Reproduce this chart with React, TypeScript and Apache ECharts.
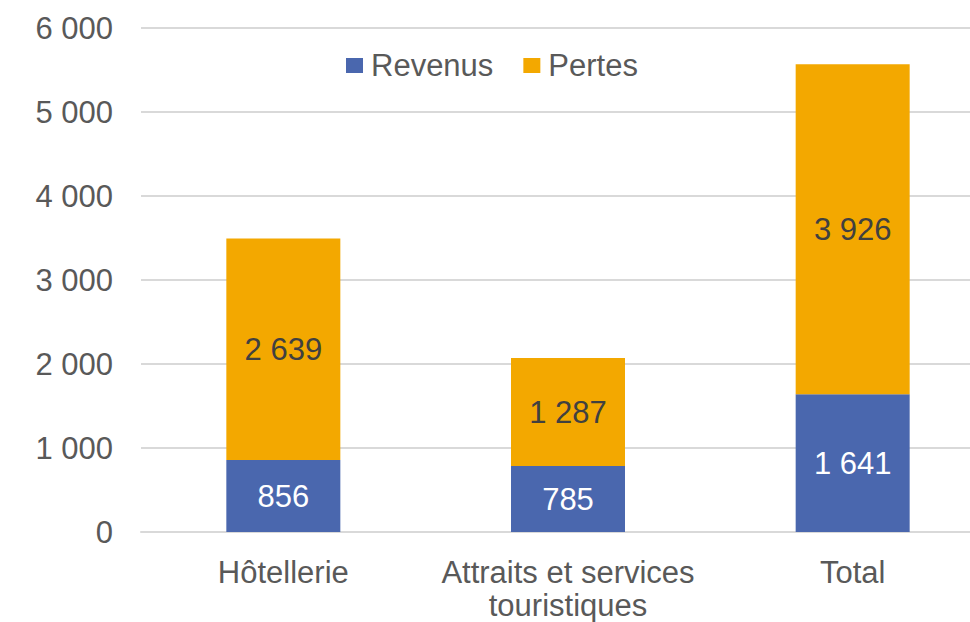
import React, { useEffect, useRef } from "react";
import * as echarts from "echarts";

const categories = ["Hôtellerie", "Attraits et services\ntouristiques", "Total"];
const revenus = [856, 785, 1641];
const pertes = [2639, 1287, 3926];
const seriesNames = ["Revenus", "Pertes"];

const fmt = (v: number) => {
  const s = Math.round(v).toString();
  return s.replace(/\B(?=(\d{3})+(?!\d))/g, " ");
};

const FONT = "'Liberation Sans', Arial, sans-serif";
const TEXT = "#595959";

export default function App() {
  const ref = useRef<HTMLDivElement>(null);
  useEffect(() => {
    document.body.style.margin = "0";
    if (!ref.current) return;
    const chart = echarts.init(ref.current, undefined, { renderer: "svg" });
    chart.setOption({
      animation: false,
      backgroundColor: "#ffffff",
      textStyle: { fontFamily: FONT },
      legend: {
        left: 341,
        top: 45,
        itemWidth: 17,
        itemHeight: 15,
        itemGap: 30,
        icon: "rect",
        data: seriesNames,
        textStyle: { fontSize: 31, color: TEXT, fontFamily: FONT, padding: [0, 0, 0, 3] },
      },
      grid: { left: 141, right: 0, top: 28, bottom: 88, containLabel: false },
      xAxis: {
        type: "category",
        data: categories,
        axisLine: { show: true, lineStyle: { color: "#d9d9d9", width: 2 } },
        axisTick: { show: false },
        axisLabel: {
          fontSize: 31,
          color: TEXT,
          fontFamily: FONT,
          margin: 24,
          lineHeight: 33,
          interval: 0,
        },
      },
      yAxis: {
        type: "value",
        min: 0,
        max: 6000,
        interval: 1000,
        axisLine: { show: false },
        axisTick: { show: false },
        splitLine: { lineStyle: { color: "#d9d9d9", width: 2 } },
        axisLabel: {
          fontSize: 31,
          color: TEXT,
          fontFamily: FONT,
          margin: 28,
          formatter: (v: number) => fmt(v),
        },
      },
      series: [
        {
          name: seriesNames[0],
          type: "bar",
          stack: "s",
          data: revenus,
          barWidth: 114,
          itemStyle: { color: "#4A67AE" },
          label: {
            show: true,
            position: "inside",
            fontSize: 31,
            color: "#ffffff",
            fontFamily: FONT,
            formatter: (p: any) => fmt(p.value),
          },
        },
        {
          name: seriesNames[1],
          type: "bar",
          stack: "s",
          data: pertes,
          barWidth: 114,
          itemStyle: { color: "#F3A800" },
          label: {
            show: true,
            position: "inside",
            fontSize: 31,
            color: "#404040",
            fontFamily: FONT,
            formatter: (p: any) => fmt(p.value),
          },
        },
      ],
    });
    return () => chart.dispose();
  }, []);
  return (
    <div
      style={{
        position: "absolute",
        left: 0,
        top: 0,
        width: 970,
        height: 622,
        overflow: "hidden",
        background: "#ffffff",
      }}
    >
      <div ref={ref} style={{ width: 995, height: 622 }} />
    </div>
  );
}
